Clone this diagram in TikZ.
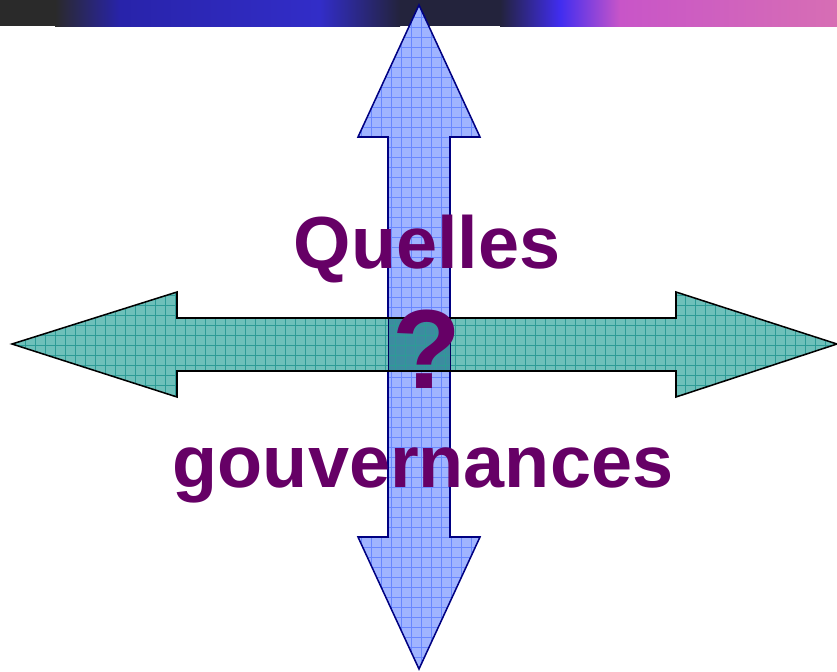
\documentclass[tikz,border=0pt]{standalone}
\usepackage{fontspec}
\setmainfont{Liberation Sans}
\usepackage{xcolor}
\usepackage{tikz}
\definecolor{myband}{RGB}{42,42,42}
\definecolor{mybandblue}{RGB}{40,35,170}
\definecolor{mybandmid}{RGB}{50,45,200}
\definecolor{mybanddark}{RGB}{35,35,60}
\definecolor{mybandbright}{RGB}{65,45,240}
\definecolor{mybandpink}{RGB}{200,85,200}
\definecolor{mybandrose}{RGB}{215,110,180}
\definecolor{myblue}{RGB}{160,180,255}
\definecolor{mybluegrid}{RGB}{105,135,255}
\definecolor{mynavy}{RGB}{0,0,130}
\definecolor{myteal}{RGB}{110,192,186}
\definecolor{mytealgrid}{RGB}{45,155,150}
\definecolor{myoverlap}{RGB}{60,140,160}
\definecolor{mypurple}{RGB}{102,0,102}

\newcommand{\vertshape}{(419,5) -- (480,137) -- (450,137) -- (450,537) -- (480,537) -- (419,669) -- (358,537) -- (388,537) -- (388,137) -- (358,137) -- cycle}
\newcommand{\horzshape}{(12,344) -- (177,292) -- (177,318) -- (676,318) -- (676,292) -- (837,344) -- (676,397) -- (676,371) -- (177,371) -- (177,397) -- cycle}

\begin{document}
\begin{tikzpicture}[x=0.03cm,y=-0.03cm,
  titletext/.style={text=mypurple,font=\bfseries\fontsize{63}{70}\selectfont,inner sep=0pt,anchor=base}]
\useasboundingbox (0,0) rectangle (837,672);

% top band
\fill[myband] (0,0) rectangle (55,26);
\shade[left color=myband,right color=mybandblue] (55,0) rectangle (120,26);
\shade[left color=mybandblue,right color=mybandmid] (120,0) rectangle (320,26);
\shade[left color=mybandmid,right color=mybanddark] (320,0) rectangle (400,26);
\fill[mybanddark] (400,0) rectangle (500,26);
\shade[left color=mybanddark,right color=mybandbright] (500,0) rectangle (560,26);
\shade[left color=mybandbright,right color=mybandpink] (560,0) rectangle (620,26);
\shade[left color=mybandpink,right color=mybandrose] (620,0) rectangle (837,26);

% vertical arrow
\fill[myblue] \vertshape;
\begin{scope}
  \clip \vertshape;
  \foreach \gx in {361,371,...,481} \draw[mybluegrid,line width=0.4pt] (\gx,0) -- (\gx,672);
  \foreach \gy in {7,17,...,667} \draw[mybluegrid,line width=0.4pt] (350,\gy) -- (490,\gy);
\end{scope}
\draw[mynavy,line width=1.3pt,line join=miter] \vertshape;

% horizontal arrow
\fill[myteal] \horzshape;
\fill[myoverlap] (388,318) rectangle (450,371);
\begin{scope}
  \clip \horzshape;
  \foreach \gx in {15,25,...,835} \draw[mytealgrid,line width=0.4pt] (\gx,285) -- (\gx,400);
  \foreach \gy in {295,305,...,395} \draw[mytealgrid,line width=0.4pt] (0,\gy) -- (837,\gy);
\end{scope}
\draw[mynavy!70!black,line width=0.8pt] (388,318) -- (388,371) (450,318) -- (450,371);
\draw[black,line width=1.3pt,line join=miter] \horzshape;

% text
\node[titletext] (quelles) at (427,268) {Quelles};
\node[titletext] (gouv) at (423,487) {gouvernances};
\node[titletext,font=\bfseries\fontsize{96}{100}\selectfont] (qmark) at (427,388) {?};

\end{tikzpicture}
\end{document}
